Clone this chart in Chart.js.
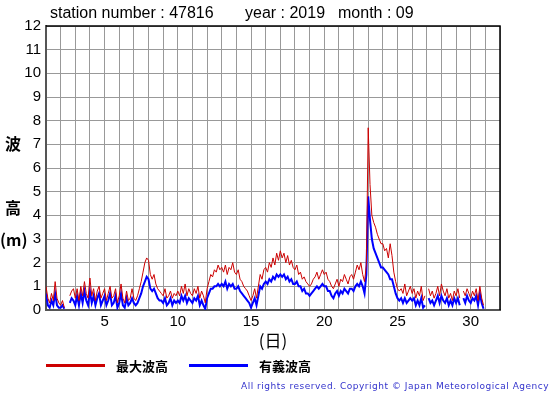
<!DOCTYPE html>
<html lang="ja">
<head>
<meta charset="UTF-8">
<title>波高</title>
<script src="https://cdn.jsdelivr.net/npm/chart.js"></script>
<style>
  body { margin: 0; background: #fff; }
  .wrap { position: relative; width: 555px; height: 395px; overflow: hidden; }
  #graf { position: absolute; left: 0; top: 0; }
  .txt { position: absolute; white-space: nowrap; color: #000; }
  .titulo { font: 16px "Liberation Sans", Arial, sans-serif; top: 4px; }
  .ylab { font: bold 16px "Noto Sans CJK JP", sans-serif; left: 5px; }
  .leg { font: bold 13px "Noto Sans CJK JP", sans-serif; top: 356px; }
  .barra { position: absolute; height: 3px; top: 364px; }
  .copy { font: 9px "DejaVu Sans", sans-serif; color: #3333cc; letter-spacing: 0.52px; left: 241px; top: 381px; }
</style>
</head>
<body>
<div class="wrap">
  <canvas id="graf" width="555" height="395"></canvas>

  <div class="txt titulo" style="left:50px">station number : 47816</div>
  <div class="txt titulo" style="left:245px">year : 2019</div>
  <div class="txt titulo" style="left:338px">month : 09</div>

  <div class="txt ylab" style="top:131px">波</div>
  <div class="txt ylab" style="top:195px">高</div>
  <div class="txt ylab" style="top:227px;left:0px">(m)</div>

  <div class="barra" style="left:46px;width:59px;background:#cc0000"></div>
  <div class="txt leg" style="left:116px">最大波高</div>
  <div class="barra" style="left:189px;width:59px;background:#0000ff"></div>
  <div class="txt leg" style="left:259px">有義波高</div>

  <div class="txt copy">All rights reserved. Copyright © Japan Meteorological Agency</div>
</div>

<script>
// dados a cada 3 horas, a partir do dia 1 00h (8 valores por dia)
var passoHoras = 3;

var maxOnda = [
  1.0, 0.5, 0.3, 0.7, 0.4, 1.2, 0.5, 0.3,   // 1
  0.2, 0.4, 0.1, null, null, 0.6, 0.8, 0.9, // 2
  0.5, 0.9, 0.4, 1.0, 0.6, 1.2, 0.7, 0.5,   // 3
  1.35, 0.6, 0.9, 0.4, 0.8, 1.0, 0.5, 0.7,  // 4
  0.9, 0.4, 0.7, 1.0, 0.5, 0.6, 0.9, 0.3,   // 5
  0.6, 1.1, 0.5, 0.3, 0.8, 0.4, 0.5, 0.9,   // 6
  0.5, 0.4, 0.6, 0.9, 1.2, 1.6, 2.0, 2.2,   // 7
  2.1, 1.5, 1.3, 1.5, 1.1, 0.9, 0.8, 0.7,   // 8
  0.6, 0.9, 0.5, 0.6, 0.8, 0.5, 0.7, 0.6,   // 9
  0.8, 0.6, 1.0, 0.7, 1.1, 0.6, 0.9, 0.7,   // 10
  0.6, 0.9, 0.7, 1.0, 0.5, 0.8, 0.6, 0.3,   // 11
  0.9, 1.2, 1.5, 1.4, 1.7, 1.6, 1.9, 1.7,   // 12
  1.8, 1.6, 1.9, 1.5, 1.8, 1.7, 2.0, 1.6,   // 13
  1.5, 1.7, 1.3, 1.2, 1.0, 0.9, 0.8, 0.6,   // 14
  0.4, 0.6, 0.9, 0.5, 1.0, 1.5, 1.3, 1.7,   // 15
  1.8, 1.6, 2.0, 1.8, 2.2, 1.9, 2.4, 2.1,   // 16
  2.5, 2.2, 2.4, 2.0, 2.3, 1.9, 2.1, 1.8,   // 17
  1.7, 1.9, 1.5, 1.6, 1.3, 1.4, 1.2, 1.1,   // 18
  1.0, 1.1, 1.3, 1.4, 1.6, 1.3, 1.5, 1.7,   // 19
  1.5, 1.6, 1.3, 1.2, 1.0, 0.9, 1.1, 1.3,   // 20
  1.0, 1.3, 1.2, 1.5, 1.3, 1.1, 1.4, 1.5,   // 21
  1.3, 1.6, 1.9, 1.7, 2.0, 1.5, 1.2, 1.9,   // 22
  7.7, 5.3, 4.0, 3.7, 3.5, 3.2, 3.0, 2.8,   // 23
  2.8, 2.5, 2.6, 2.2, 2.8, 2.3, 1.6, 1.2,   // 24
  0.9, 0.8, 0.9, 0.7, 1.1, 0.6, 0.8, 1.0,   // 25
  0.7, 0.9, 0.5, 0.8, 0.6, 1.0, 0.4, 0.6,   // 26
  null, 0.9, 0.6, 0.8, 0.5, 0.7, 1.0, 0.6,  // 27
  1.1, 0.8, 0.6, 0.9, 0.5, 0.7, 0.4, 0.8,   // 28
  0.6, 0.9, 0.5, null, 0.8, 0.6, 0.9, 0.7,  // 29
  0.5, 0.8, 0.6, 0.9, 0.4, 1.0, 0.5, 0.2    // 30
];

var signifOnda = [
  0.7, 0.2, 0.1, 0.4, 0.2, 0.7, 0.2, 0.1,   // 1
  0.1, 0.2, 0.05, null, null, 0.3, 0.5, 0.4,// 2
  0.2, 0.6, 0.2, 0.7, 0.3, 0.8, 0.4, 0.2,   // 3
  0.8, 0.3, 0.6, 0.2, 0.5, 0.7, 0.2, 0.4,   // 4
  0.6, 0.2, 0.4, 0.7, 0.2, 0.3, 0.6, 0.1,   // 5
  0.3, 0.7, 0.2, 0.1, 0.5, 0.2, 0.3, 0.5,   // 6
  0.3, 0.2, 0.3, 0.5, 0.7, 1.0, 1.2, 1.4,   // 7
  1.3, 0.9, 0.8, 0.9, 0.7, 0.5, 0.4, 0.4,   // 8
  0.3, 0.5, 0.2, 0.3, 0.5, 0.2, 0.4, 0.3,   // 9
  0.4, 0.3, 0.6, 0.4, 0.6, 0.3, 0.5, 0.4,   // 10
  0.3, 0.5, 0.4, 0.6, 0.2, 0.4, 0.2, 0.05,  // 11
  0.5, 0.7, 0.9, 0.9, 1.0, 1.0, 1.1, 1.0,   // 12
  1.1, 1.0, 1.2, 0.9, 1.1, 1.0, 1.1, 0.9,   // 13
  0.9, 1.0, 0.8, 0.7, 0.6, 0.5, 0.4, 0.3,   // 14
  0.1, 0.3, 0.5, 0.2, 0.6, 1.0, 0.9, 1.1,   // 15
  1.2, 1.1, 1.3, 1.2, 1.4, 1.3, 1.5, 1.4,   // 16
  1.5, 1.4, 1.5, 1.3, 1.4, 1.2, 1.3, 1.1,   // 17
  1.1, 1.2, 1.0, 1.0, 0.8, 0.9, 0.7, 0.7,   // 18
  0.6, 0.7, 0.8, 0.9, 1.0, 0.9, 1.0, 1.1,   // 19
  1.0, 1.0, 0.8, 0.8, 0.6, 0.5, 0.7, 0.8,   // 20
  0.6, 0.8, 0.7, 0.9, 0.8, 0.7, 0.9, 0.9,   // 21
  0.8, 1.0, 1.1, 1.0, 1.2, 1.0, 0.7, 1.5,   // 22
  4.8, 3.8, 3.0, 2.6, 2.4, 2.2, 2.0, 1.8,   // 23
  1.8, 1.7, 1.6, 1.5, 1.3, 1.3, 1.0, 0.7,   // 24
  0.5, 0.4, 0.5, 0.3, 0.5, 0.3, 0.4, 0.5,   // 25
  0.4, 0.5, 0.2, 0.4, 0.2, 0.5, 0.1, 0.2,   // 26
  null, 0.5, 0.3, 0.4, 0.2, 0.4, 0.6, 0.3,  // 27
  0.6, 0.4, 0.3, 0.5, 0.2, 0.4, 0.2, 0.5,   // 28
  0.3, 0.5, 0.2, null, 0.5, 0.3, 0.6, 0.4,  // 29
  0.3, 0.5, 0.4, 0.6, 0.2, 0.7, 0.3, 0.05   // 30
];

var diasTicks = [5, 10, 15, 20, 25, 30];

function pontos(serie) {
  var lista = [];
  for (var i = 0; i < serie.length; i++) {
    lista.push({ x: 1 + i * passoHoras / 24, y: serie[i] });
  }
  return lista;
}

// moldura preta em cima e a direita
var moldura = {
  id: 'moldura',
  afterDraw: function (chart) {
    var a = chart.chartArea, ctx = chart.ctx;
    ctx.save();
    ctx.strokeStyle = '#000';
    ctx.lineWidth = 1.5;
    ctx.beginPath();
    ctx.moveTo(a.left, a.top);
    ctx.lineTo(a.right, a.top);
    ctx.lineTo(a.right, a.bottom);
    ctx.stroke();
    ctx.restore();
  }
};

new Chart(document.getElementById('graf'), {
  type: 'line',
  data: {
    datasets: [
      { label: '最大波高', data: pontos(maxOnda), borderColor: '#cc0000', borderWidth: 1, pointRadius: 0, tension: 0 },
      { label: '有義波高', data: pontos(signifOnda), borderColor: '#0000ff', borderWidth: 2, pointRadius: 0, tension: 0 }
    ]
  },
  options: {
    responsive: false,
    animation: false,
    layout: { padding: { left: 0, right: 55, top: 26, bottom: 0 } },
    plugins: { legend: { display: false }, tooltip: { enabled: false } },
    scales: {
      x: {
        type: 'linear', min: 1, max: 32,
        afterFit: function (s) { s.height = 85; },
        ticks: {
          stepSize: 1, autoSkip: false, maxRotation: 0, padding: 3,
          color: '#000', font: { family: 'Liberation Sans', size: 15 },
          callback: function (v) { return diasTicks.indexOf(v) >= 0 ? v : ''; }
        },
        grid: { color: '#999', lineWidth: 1, drawTicks: false },
        border: { color: '#555', width: 2 },
        title: { display: true, text: '(日)', color: '#000', font: { family: 'Noto Sans CJK JP', size: 17 }, padding: { top: 0, bottom: 44 } }
      },
      y: {
        min: 0, max: 12,
        afterFit: function (s) { s.width = 46; },
        ticks: { stepSize: 1, padding: 5, color: '#000', font: { family: 'Liberation Sans', size: 15 } },
        grid: { color: '#999', lineWidth: 1, drawTicks: false },
        border: { color: '#555', width: 2 }
      }
    }
  },
  plugins: [moldura]
});
</script>
</body>
</html>
